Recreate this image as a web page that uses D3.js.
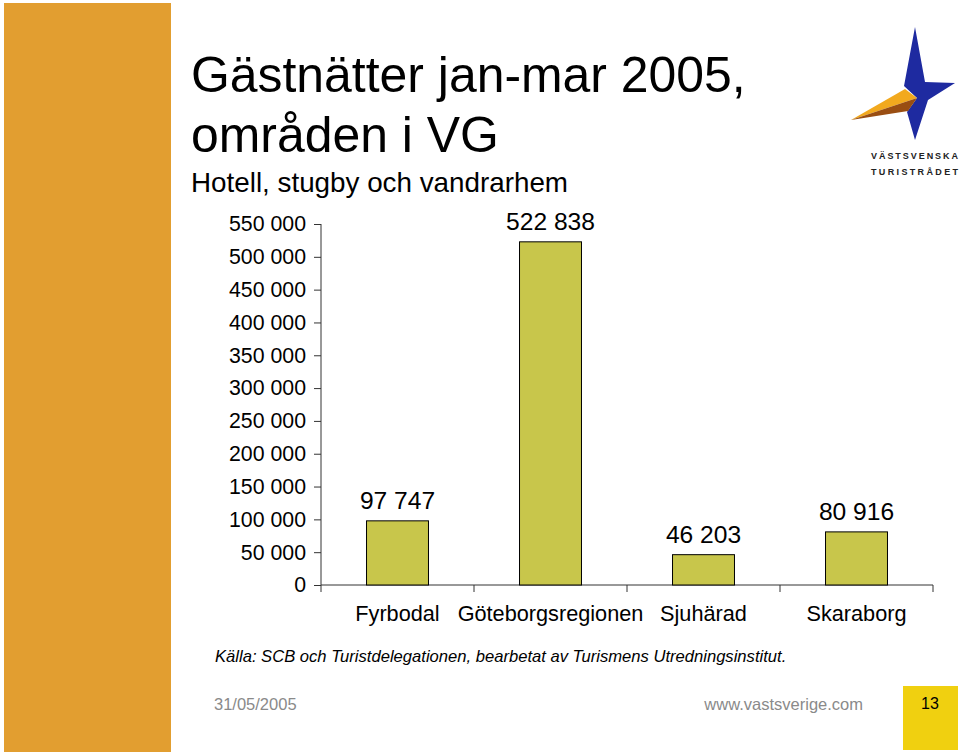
<!DOCTYPE html>
<html><head><meta charset="utf-8">
<script src="https://cdn.jsdelivr.net/npm/d3@7"></script>
<style>body{margin:0;background:#fff}svg{display:block}text{font-family:"Liberation Sans",Arial,sans-serif}</style>
</head><body>
<script>
const categories = ["Fyrbodal","Göteborgsregionen","Sjuhärad","Skaraborg"];
const values = [97747, 522838, 46203, 80916];
const yTicks = [0,50000,100000,150000,200000,250000,300000,350000,400000,450000,500000,550000];
const titleLines = ["Gästnätter jan-mar 2005,","områden i VG"];
const subtitle = "Hotell, stugby och vandrarhem";
const source = "Källa: SCB och Turistdelegationen, bearbetat av Turismens Utredningsinstitut.";
const footerDate = "31/05/2005";
const footerUrl = "www.vastsverige.com";
const pageNo = "13";

const W=960,H=756;
const svg=d3.select("body").append("svg").attr("width",W).attr("height",H);
const loc=d3.formatLocale({decimal:",",thousands:"\u00a0",grouping:[3],currency:["","kr"]});
const fmt=loc.format(",d");

// left orange band
svg.append("rect").attr("x",4).attr("y",3).attr("width",167).attr("height",749).attr("fill","#E29E30");

// title
svg.selectAll("text.title").data(titleLines).join("text").attr("class","title")
  .attr("x",191).attr("y",(d,i)=>92+i*60).attr("font-size",49.9).attr("fill","#000").text(d=>d);
svg.append("text").attr("x",191).attr("y",192).attr("font-size",27.8).text(subtitle);

// chart
const y=d3.scaleLinear().domain([0,550000]).range([585,224]);
const x=d3.scaleBand().domain(categories).range([321,933]).padding(0);
const barW=x.bandwidth()*0.405;
const g=svg.append("g");

const yAxis=d3.axisLeft(y).tickValues(yTicks).tickFormat(fmt).tickSize(7).tickPadding(8);
const ya=g.append("g").attr("transform","translate(321,0)").call(yAxis);
ya.select(".domain").attr("stroke","#333").attr("d","M0,224V585");
ya.selectAll(".tick line").attr("stroke","#333");
ya.selectAll("text").attr("font-size",21.3).attr("fill","#000").attr("font-family","Liberation Sans, Arial, sans-serif");

// x axis
const xa=g.append("g");
xa.append("line").attr("x1",321).attr("x2",933).attr("y1",585).attr("y2",585).attr("stroke","#333");
const bounds=categories.map(c=>x(c)).concat([x.range()[1]]);
xa.selectAll("line.t").data(bounds).join("line").attr("class","t")
  .attr("x1",d=>d).attr("x2",d=>d).attr("y1",585).attr("y2",592).attr("stroke","#333");
xa.selectAll("text").data(categories).join("text")
  .attr("x",d=>x(d)+x.bandwidth()/2).attr("y",621).attr("text-anchor","middle")
  .attr("font-size",21.7).text(d=>d);

// bars
g.selectAll("rect.bar").data(values).join("rect").attr("class","bar")
  .attr("x",(d,i)=>x(categories[i])+(x.bandwidth()-barW)/2)
  .attr("y",d=>y(d)).attr("width",barW).attr("height",d=>y(0)-y(d))
  .attr("fill","#C8C64B").attr("stroke","#000").attr("stroke-width",1);
g.selectAll("text.val").data(values).join("text").attr("class","val")
  .attr("x",(d,i)=>x(categories[i])+x.bandwidth()/2)
  .attr("y",d=>y(d)-12).attr("text-anchor","middle").attr("font-size",24.6).text(d=>fmt(d));

// source
svg.append("text").attr("x",215).attr("y",662).attr("font-size",16.6).attr("font-style","italic").text(source);

// footer
svg.append("text").attr("x",214).attr("y",710).attr("font-size",16.5).attr("fill","#8a8a8a").text(footerDate);
svg.append("text").attr("x",863).attr("y",710).attr("text-anchor","end").attr("font-size",16.5).attr("fill","#8a8a8a").text(footerUrl);
svg.append("rect").attr("x",903).attr("y",686).attr("width",55).attr("height",64).attr("fill","#F0D010");
svg.append("text").attr("x",930).attr("y",709).attr("text-anchor","middle").attr("font-size",16).text(pageNo);

// logo
const logo=svg.append("g");
logo.append("path").attr("d","M915,27 L925,82 L955,83 L928,100 L915,140 L907,112 L917,98 L904,86 Z").attr("fill","#1E2AA0");
logo.append("path").attr("d","M851,120 L905,89 L917,98 Z").attr("fill","#F2A91E");
logo.append("path").attr("d","M851,120 L917,98 L908,111 Z").attr("fill","#9A4E12");
logo.append("text").attr("x",871).attr("y",159).attr("font-size",9).attr("font-weight","bold").attr("textLength",87).attr("lengthAdjust","spacing").attr("fill","#222").text("VÄSTSVENSKA");
logo.append("text").attr("x",871).attr("y",175).attr("font-size",9).attr("font-weight","bold").attr("textLength",87).attr("lengthAdjust","spacing").attr("fill","#222").text("TURISTRÅDET");
</script>
</body></html>
